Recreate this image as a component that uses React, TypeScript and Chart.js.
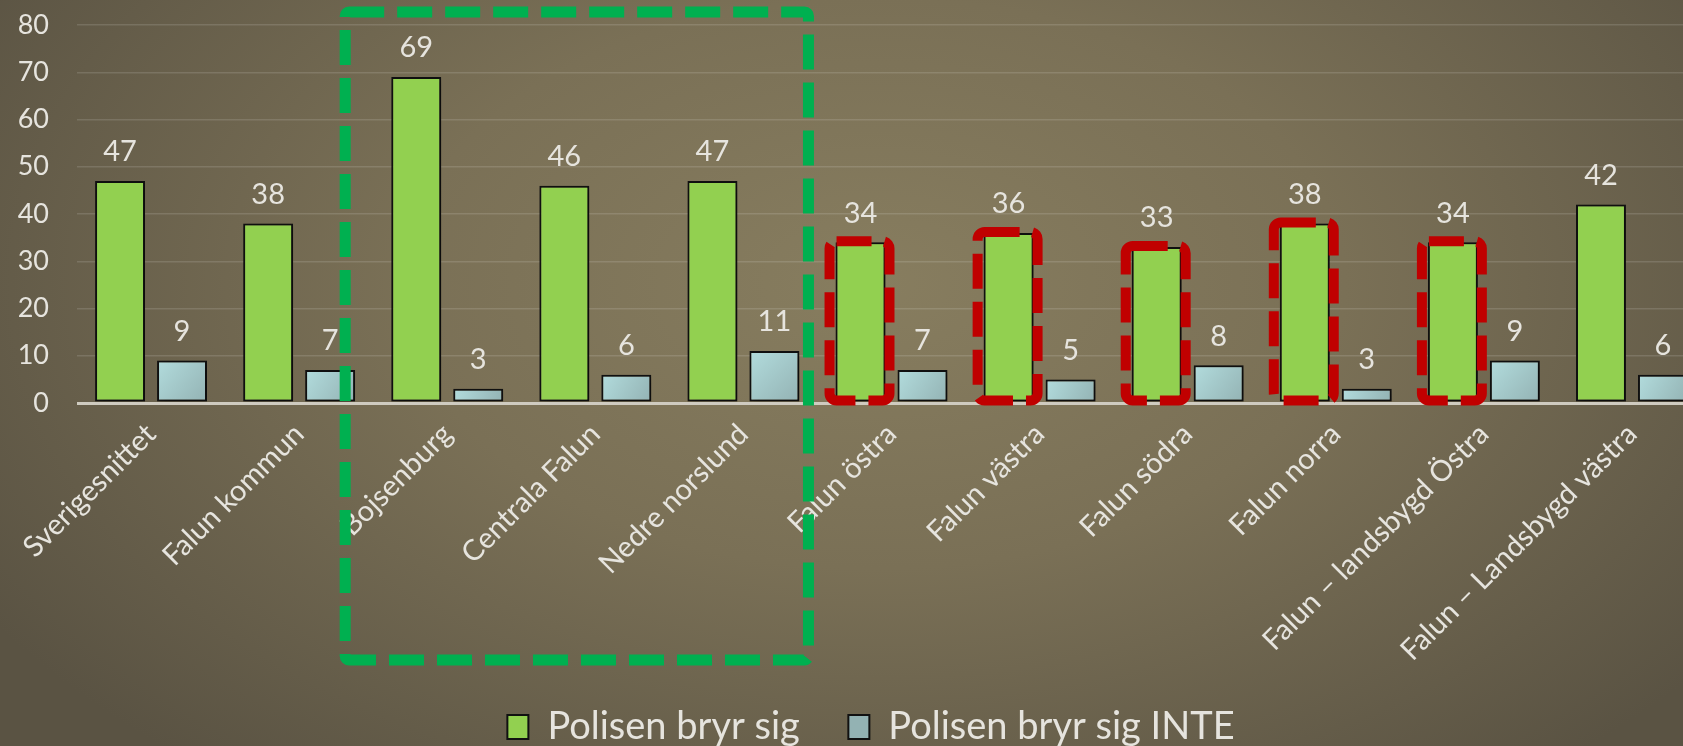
import React, { useEffect, useRef } from 'react';
import { Chart, registerables } from 'chart.js';

Chart.register(...registerables);

const categories = [
  'Sverigesnittet',
  'Falun kommun',
  'Bojsenburg',
  'Centrala Falun',
  'Nedre norslund',
  'Falun östra',
  'Falun västra',
  'Falun södra',
  'Falun norra',
  'Falun – landsbygd Östra',
  'Falun – Landsbygd västra',
];
const bryrSig = [47, 38, 69, 46, 47, 34, 36, 33, 38, 34, 42];
const bryrSigInte = [9, 7, 3, 6, 11, 7, 5, 8, 3, 9, 6];
const seriesNames = ['Polisen bryr sig', 'Polisen bryr sig INTE'];
const yMin = 0;
const yMax = 80;
const yStep = 10;
const greenBoxFrom = 'Bojsenburg';
const greenBoxTo = 'Nedre norslund';
const redBoxCategories = ['Falun östra', 'Falun västra', 'Falun södra', 'Falun norra', 'Falun – landsbygd Östra'];

const FONT = 'Lato, "Open Sans", sans-serif';
const TEXT = '#E6E4DE';
const LEGEND_SHIFT = 18;

const shadowAndLabels = {
  id: 'shadowAndLabels',
  afterLayout(chart: any) {
    if (chart.legend) {
      chart.legend.left += LEGEND_SHIFT;
      chart.legend.right += LEGEND_SHIFT;
    }
  },
  beforeDatasetsDraw(chart: any) {
    const ctx = chart.ctx;
    ctx.save();
    ctx.shadowColor = 'rgba(0,0,0,0.38)';
    ctx.shadowBlur = 8;
    ctx.shadowOffsetX = 3;
    ctx.shadowOffsetY = 2;
  },
  afterDatasetsDraw(chart: any) {
    const ctx = chart.ctx;
    ctx.restore();
    ctx.save();
    ctx.font = `29px ${FONT}`;
    ctx.fillStyle = TEXT;
    ctx.textAlign = 'center';
    ctx.textBaseline = 'middle';
    chart.data.datasets.forEach((ds: any, di: number) => {
      const meta = chart.getDatasetMeta(di);
      meta.data.forEach((bar: any, i: number) => {
        ctx.fillText(String(ds.data[i]), bar.x, bar.y - 29);
      });
    });
    ctx.restore();
  },
};

const annotations = {
  id: 'annotations',
  afterDraw(chart: any) {
    const ctx = chart.ctx;
    const xs = chart.scales.x;
    const area = chart.chartArea;
    const cw = (xs.right - xs.left) / categories.length;
    const i0 = categories.indexOf(greenBoxFrom);
    const i1 = categories.indexOf(greenBoxTo);
    ctx.save();
    ctx.lineCap = 'butt';
    ctx.lineJoin = 'round';
    ctx.lineWidth = 11;
    ctx.setLineDash([35, 13]);
    ctx.strokeStyle = '#00B050';
    const gl = xs.left + i0 * cw - 28;
    const gr = xs.left + (i1 + 1) * cw - 9;
    const gt = area.top - 13;
    const gb = area.bottom + 257;
    ctx.beginPath();
    ctx.roundRect(gl, gt, gr - gl, gb - gt, 4);
    ctx.stroke();

    ctx.strokeStyle = '#C00000';
    ctx.lineWidth = 10;
    const meta = chart.getDatasetMeta(0);
    redBoxCategories.forEach((name) => {
      const i = categories.indexOf(name);
      const bar: any = meta.data[i];
      const l = bar.x - bar.width / 2 - 6;
      const r = bar.x + bar.width / 2 + 4;
      const t = bar.y - 1;
      const b = bar.base - 1;
      ctx.beginPath();
      ctx.roundRect(l, t, r - l, b - t, 7);
      ctx.stroke();
    });
    ctx.restore();
  },
};

function blueFill(context: any) {
  const chart = context.chart;
  const xs = chart.scales?.x;
  const ys = chart.scales?.y;
  if (!xs || !ys || context.dataIndex === undefined || !chart.chartArea) return '#A4C9CA';
  const cx = xs.getPixelForValue(context.dataIndex) + 31;
  const top = ys.getPixelForValue(context.raw);
  const base = ys.getPixelForValue(0);
  const g = chart.ctx.createLinearGradient(cx - 25, top, cx + 25, base);
  g.addColorStop(0, '#B2DCDD');
  g.addColorStop(1, '#93B2B3');
  return g;
}

export default function App() {
  const ref = useRef<HTMLCanvasElement | null>(null);
  useEffect(() => {
    if (!ref.current) return;
    const chart = new Chart(ref.current, {
      type: 'bar',
      data: {
        labels: categories,
        datasets: [
          {
            label: seriesNames[0],
            data: bryrSig,
            backgroundColor: '#92D050',
            borderColor: '#111111',
            borderWidth: 2,
            borderSkipped: false,
            categoryPercentage: 0.837,
            barPercentage: 0.806,
          },
          {
            label: seriesNames[1],
            data: bryrSigInte,
            backgroundColor: blueFill,
            borderColor: '#111111',
            borderWidth: 2,
            borderSkipped: false,
            categoryPercentage: 0.837,
            barPercentage: 0.806,
          },
        ],
      },
      options: {
        responsive: false,
        animation: false,
        devicePixelRatio: 1,
        layout: { padding: { left: 0, right: 0, top: 25, bottom: 0 } },
        scales: {
          x: {
            grid: { display: false, drawTicks: false },
            border: { display: false },
            ticks: {
              color: TEXT,
              font: { family: FONT, size: 29 },
              maxRotation: 45,
              minRotation: 45,
              padding: 14,
              autoSkip: false,
            },
            afterFit: (s: any) => {
              s.height = 285;
            },
          },
          y: {
            min: yMin,
            max: yMax,
            grid: {
              drawTicks: true,
              tickLength: 28,
              tickColor: 'rgba(0,0,0,0)',
              color: (c: any) => (c.tick && c.tick.value === 0 ? '#CFCBC0' : 'rgba(255,255,255,0.13)'),
              lineWidth: (c: any) => (c.tick && c.tick.value === 0 ? 3 : 1.5),
            },
            border: { display: false },
            ticks: {
              stepSize: yStep,
              color: TEXT,
              font: { family: FONT, size: 27 },
              padding: 0,
            },
            afterFit: (s: any) => {
              s.width = 77;
            },
          },
        },
        plugins: {
          legend: {
            position: 'bottom',
            labels: {
              color: TEXT,
              font: { family: FONT, size: 38 },
              boxWidth: 21,
              boxHeight: 24,
              padding: 20,
              generateLabels: (chart: any) => {
                const items = Chart.defaults.plugins.legend.labels.generateLabels(chart);
                if (items.length > 1) items[0].text = items[0].text + '\u2003';
                return items;
              },
            },
          },
          tooltip: { enabled: false },
        },
      },
      plugins: [shadowAndLabels, annotations],
    });
    return () => chart.destroy();
  }, []);

  return (
    <div
      style={{
        position: 'fixed',
        left: 0,
        top: 0,
        width: 1683,
        height: 746,
        overflow: 'hidden',
        background:
          'radial-gradient(ellipse 62% 85% at 52% 38%, #877D5F 0%, #7A7056 45%, #5A5343 100%)',
      }}
    >
      <canvas ref={ref} width={1706} height={756} style={{ display: 'block', width: 1706, height: 756 }} />
    </div>
  );
}
